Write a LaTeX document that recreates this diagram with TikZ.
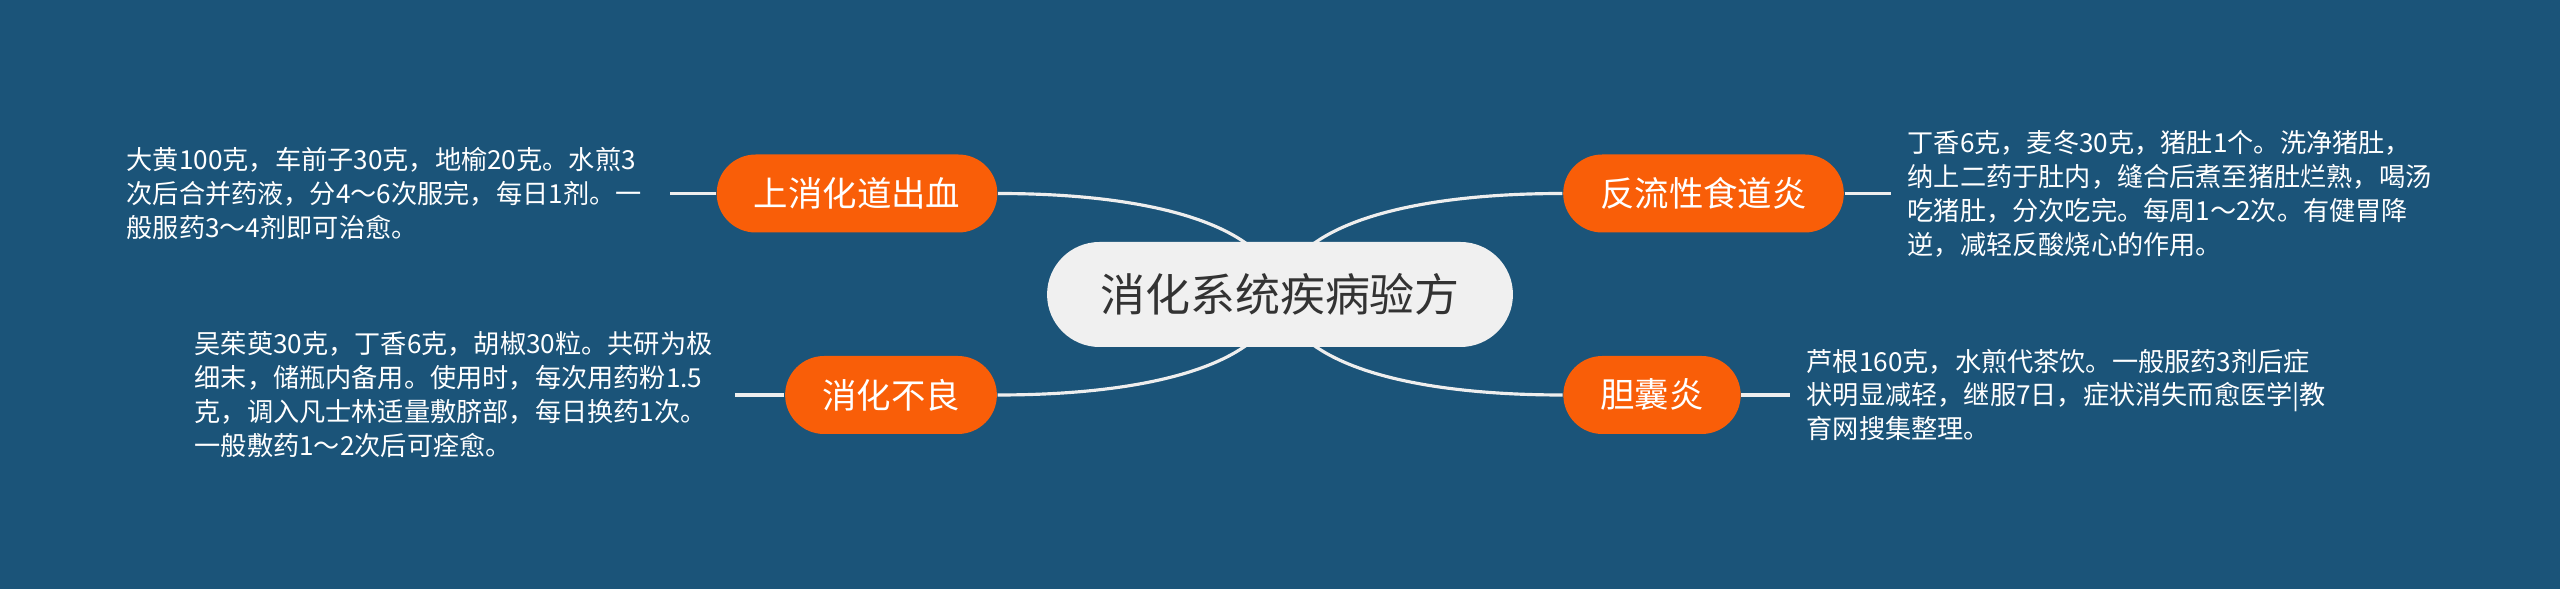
\documentclass[tikz,border=0pt]{standalone}
\usepackage{fontspec}
\setmainfont{Noto Sans CJK SC}
\usetikzlibrary{backgrounds}

\definecolor{bgblue}{RGB}{27,84,121}
\definecolor{branchorange}{RGB}{249,94,8}
\definecolor{rootgray}{RGB}{240,240,240}
\definecolor{roottext}{RGB}{51,51,51}
\definecolor{linkwhite}{RGB}{238,238,238}

\begin{document}
\begin{tikzpicture}
    \useasboundingbox (0, 0) rectangle (25.6, 5.89);

    \begin{scope}[every node/.style={fill=rootgray, text=roottext, rounded corners=0.525cm, minimum height=1.05cm, inner xsep=0.53cm, font=\fontsize{12.8pt}{15pt}\selectfont}]
        \node (R) at (12.80, 2.945) {消化系统疾病验方};
    \end{scope}

    \begin{scope}[every node/.style={fill=branchorange, text=white, rounded corners=0.39cm, minimum height=0.78cm, inner xsep=0.37cm, font=\fontsize{9.8pt}{12pt}\selectfont}]
        \node (B_1) at (8.57, 3.955) {上消化道出血};
        \node (B_2) at (8.91, 1.94) {消化不良};
        \node (B_3) at (17.035, 3.955) {反流性食道炎};
        \node (B_4) at (16.52, 1.94) {胆囊炎};
    \end{scope}

    \begin{scope}[every node/.style={text=white, inner xsep=0.16cm, inner ysep=0pt, align=left, anchor=west, font=\fontsize{7.45pt}{9.67pt}\selectfont}]
        \node[text width=5.27cm] (T_1) at (1.10, 3.955) {大黄100克，车前子30克，地榆20克。水煎3\\次后合并药液，分4～6次服完，每日1剂。一\\般服药3～4剂即可治愈。};
        \node[text width=5.24cm] (T_2) at (1.78, 1.94) {吴茱萸30克，丁香6克，胡椒30粒。共研为极\\细末，储瓶内备用。使用时，每次用药粉1.5\\克，调入凡士林适量敷脐部，每日换药1次。\\一般敷药1～2次后可痊愈。};
        \node[text width=5.4cm] (T_3) at (18.91, 3.955) {丁香6克，麦冬30克，猪肚1个。洗净猪肚，\\纳上二药于肚内，缝合后煮至猪肚烂熟，喝汤\\吃猪肚，分次吃完。每周1～2次。有健胃降\\逆，减轻反酸烧心的作用。};
        \node[text width=5.4cm] (T_4) at (17.90, 1.94) {芦根160克，水煎代茶饮。一般服药3剂后症\\状明显减轻，继服7日，症状消失而愈医学|教\\育网搜集整理。};
    \end{scope}

    \begin{scope}[on background layer]
        \fill[bgblue] (0, 0) rectangle (25.6, 5.89);
    \end{scope}

    \begin{scope}[on background layer, every path/.style={draw=linkwhite, line width=0.9pt}]
        \draw (R.center) .. controls +(-0.08, 0.66) and +(1.63, 0) .. (B_1.east);
        \draw (R.center) .. controls +(-0.08, -0.66) and +(1.63, 0) .. (B_2.east);
        \draw (R.center) .. controls +(0.08, 0.66) and +(-1.63, 0) .. (B_3.west);
        \draw (R.center) .. controls +(0.08, -0.66) and +(-1.63, 0) .. (B_4.west);
    \end{scope}

    \begin{scope}[every edge/.style={draw=linkwhite, line width=0.9pt}]
        \path (T_1) edge (B_1);
        \path (T_2) edge (B_2);
        \path (B_3) edge (T_3);
        \path (B_4) edge (T_4);
    \end{scope}
\end{tikzpicture}
\end{document}
